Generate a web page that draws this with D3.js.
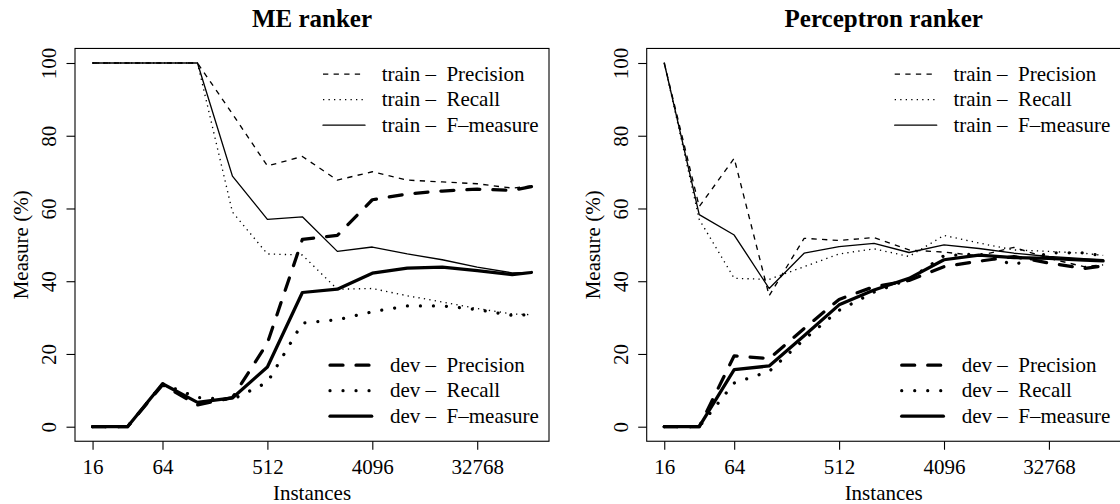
<!DOCTYPE html>
<html>
<head>
<meta charset="utf-8">
<script src="https://cdn.jsdelivr.net/npm/d3@7"></script>
<style>
  html, body { margin: 0; padding: 0; background: #fff; }
  svg { display: block; }
  text { font-family: "Liberation Serif", Tinos, "Times New Roman", Times, "Nimbus Roman", "DejaVu Serif", serif; fill: #000; }
</style>
</head>
<body>
<svg id="chart" width="1120" height="504"></svg>
<script>
// ---------- data ----------
const instances = [16, 32, 64, 128, 256, 512, 1024, 2048, 4096, 8192, 16384, 32768, 65536, 96000];
const xTickValues = [16, 64, 512, 4096, 32768];
const yTickValues = [0, 20, 40, 60, 80, 100];
const seriesNames = ["train \u2013  Precision", "train \u2013  Recall", "train \u2013  F\u2013measure",
                     "dev \u2013  Precision", "dev \u2013  Recall", "dev \u2013  F\u2013measure"];

// ME ranker
const meTrainPrecision = [100, 100, 100, 100, 86.0, 71.7, 74.3, 67.8, 70.1, 67.8, 67.3, 66.8, 65.6, 66.2];
const meTrainRecall    = [100, 100, 100, 100, 59.0, 47.5, 47.2, 37.8, 38.0, 36.0, 34.3, 32.5, 31.0, 30.8];
const meTrainF         = [100, 100, 100, 100, 68.9, 57.0, 57.7, 48.2, 49.4, 47.5, 45.9, 43.9, 42.3, 42.4];
const meDevPrecision   = [0, 0, 11.5, 6.0, 8.0, 23.0, 51.5, 52.6, 62.4, 64.0, 64.8, 65.3, 65.0, 66.0];
const meDevRecall      = [0, 0, 11.8, 8.0, 7.5, 12.2, 28.5, 29.4, 31.6, 33.2, 33.2, 32.2, 30.6, 30.8];
const meDevF           = [0, 0, 11.8, 6.7, 7.9, 16.4, 36.9, 37.8, 42.2, 43.6, 43.9, 42.9, 41.8, 42.4];

// Perceptron ranker
const pTrainPrecision = [100, 60.5, 73.8, 36.0, 51.8, 51.2, 52.0, 48.6, 48.0, 47.0, 49.3, 46.3, 44.0, 44.5];
const pTrainRecall    = [100, 57.0, 40.8, 40.5, 44.0, 47.5, 48.9, 46.8, 52.6, 50.5, 48.6, 48.2, 47.7, 47.1];
const pTrainF         = [100, 58.3, 52.7, 38.0, 47.7, 49.5, 50.4, 47.9, 50.0, 49.0, 47.7, 46.8, 46.2, 45.9];
const pDevPrecision   = [0, 0, 19.5, 18.7, 27.0, 35.0, 38.5, 40.2, 44.0, 45.5, 46.8, 45.0, 43.5, 44.2];
const pDevRecall      = [0, 0, 12.0, 15.2, 24.0, 32.0, 37.0, 40.5, 47.0, 47.5, 44.5, 47.8, 47.8, 47.0];
const pDevF           = [0, 0, 15.7, 16.7, 25.0, 33.5, 37.6, 40.8, 45.9, 47.2, 46.5, 46.3, 45.8, 45.6];

// ---------- styles ----------
const FONT = '"Liberation Serif", Tinos, "Times New Roman", Times, "Nimbus Roman", "DejaVu Serif", serif';
const styles = [
  { w: 1.33, dash: "5.3,5.3", cap: "butt" },
  { w: 1.33, dash: "1.3,4.2", cap: "butt" },
  { w: 1.33, dash: null, cap: "round" },
  { w: 3.25, dash: "13,13", cap: "round" },
  { w: 3.25, dash: "0.01,13", cap: "round" },
  { w: 3.25, dash: null, cap: "round" }
];

const svg = d3.select("#chart");

function drawPanel(ox, title, valuesList) {
  const boxL = 75 + ox, boxR = 549 + ox, boxT = 48.45, boxB = 441.25;
  const padX = (boxR - boxL) * 0.04 / 1.08;
  const padY = (boxB - boxT) * 0.04 / 1.08;
  const x = d3.scaleLog().base(2).domain([16, 96000]).range([boxL + padX, boxR - padX]);
  const y = d3.scaleLinear().domain([0, 100]).range([boxB - padY, boxT + padY]);

  const g = svg.append("g");

  // lines
  const line = d3.line().x((d, i) => x(instances[i])).y(d => y(d));
  valuesList.forEach((vals, k) => {
    const s = styles[k];
    const p = g.append("path").datum(vals)
      .attr("d", line)
      .attr("fill", "none")
      .attr("stroke", "#000")
      .attr("stroke-width", s.w)
      .attr("stroke-linejoin", "round")
      .attr("stroke-linecap", s.cap);
    if (s.dash) p.attr("stroke-dasharray", s.dash);
  });

  // box
  g.append("rect")
    .attr("x", boxL).attr("y", boxT)
    .attr("width", boxR - boxL).attr("height", boxB - boxT)
    .attr("fill", "none").attr("stroke", "#000").attr("stroke-width", 1.1);

  // x axis
  const xAxis = d3.axisBottom(x).tickValues(xTickValues).tickSize(8.5).tickPadding(0)
    .tickFormat(d => String(d));
  const gx = g.append("g").attr("transform", `translate(0,${boxB})`).call(xAxis)
    .attr("font-family", null).attr("font-size", null);
  gx.select(".domain").remove();
  gx.selectAll(".tick line").attr("stroke", "#000").attr("stroke-width", 1.1);
  gx.selectAll(".tick text")
    .attr("y", 0).attr("dy", null)
    .attr("transform", `translate(0,${474 - boxB})`)
    .style("font-family", FONT)
    .style("font-size", "21px")
    .attr("fill", "#000");

  // y axis
  const yAxis = d3.axisLeft(y).tickValues(yTickValues).tickSize(8.5).tickPadding(0)
    .tickFormat(d => String(d));
  const gy = g.append("g").attr("transform", `translate(${boxL},0)`).call(yAxis)
    .attr("font-family", null).attr("font-size", null);
  gy.select(".domain").remove();
  gy.selectAll(".tick line").attr("stroke", "#000").attr("stroke-width", 1.1);
  gy.selectAll(".tick text")
    .attr("x", 0).attr("dy", null)
    .attr("transform", `translate(${56 + ox - boxL},0) rotate(-90)`)
    .attr("text-anchor", "middle")
    .style("font-family", FONT)
    .style("font-size", "21px")
    .attr("fill", "#000");

  // titles
  g.append("text").attr("x", (boxL + boxR) / 2).attr("y", 27)
    .attr("text-anchor", "middle").style("font-family", FONT)
    .style("font-size", "25px").style("font-weight", "bold")
    .text(title);
  g.append("text").attr("x", (boxL + boxR) / 2).attr("y", 500)
    .attr("text-anchor", "middle").style("font-family", FONT).style("font-size", "21px")
    .text("Instances");
  g.append("text")
    .attr("transform", `translate(${28 + ox},${(boxT + boxB) / 2}) rotate(-90)`)
    .attr("text-anchor", "middle").style("font-family", FONT).style("font-size", "21px")
    .text("Measure (%)");

  // legends
  const legends = [
    { idx: [0, 1, 2], x0: 323, x1: 365, tx: 381.7, base: 80.7 },
    { idx: [3, 4, 5], x0: 330, x1: 371.7, tx: 390, base: 371.7 }
  ];
  legends.forEach(L => {
    L.idx.forEach((k, r) => {
      const s = styles[k];
      const by = L.base + r * 25.5;
      const ly = by - 6.5;
      const seg = g.append("line")
        .attr("x1", L.x0 + ox).attr("x2", L.x1 + ox)
        .attr("y1", ly).attr("y2", ly)
        .attr("stroke", "#000").attr("stroke-width", s.w)
        .attr("stroke-linecap", s.cap);
      if (s.dash) seg.attr("stroke-dasharray", s.dash);
      g.append("text").attr("x", L.tx + ox).attr("y", by)
        .style("font-family", FONT)
        .style("font-size", "21px").style("white-space", "pre")
        .text(seriesNames[k]);
    });
  });
}

drawPanel(0, "ME ranker",
  [meTrainPrecision, meTrainRecall, meTrainF, meDevPrecision, meDevRecall, meDevF]);
drawPanel(571.7, "Perceptron ranker",
  [pTrainPrecision, pTrainRecall, pTrainF, pDevPrecision, pDevRecall, pDevF]);
</script>
</body>
</html>
